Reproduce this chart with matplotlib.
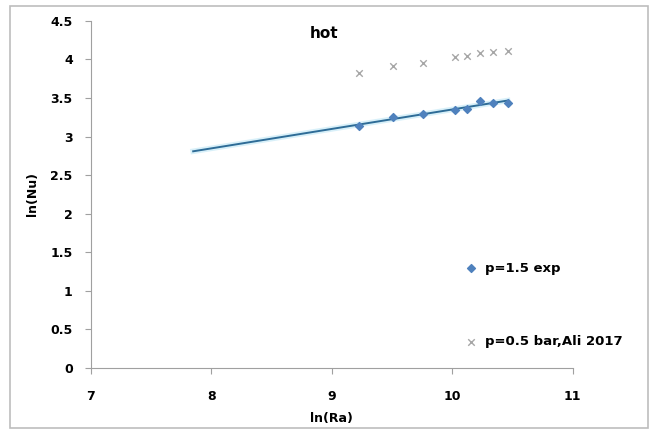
import numpy as np
import matplotlib
matplotlib.use("Agg")
import matplotlib.pyplot as plt
from matplotlib.patches import Rectangle

plt.rcParams["font.family"] = ["DejaVu Sans"]
plt.rcParams["font.weight"] = "bold"

# ln(Ra) of the measured points
ln_ra = [9.23, 9.51, 9.76, 10.02, 10.12, 10.23, 10.34, 10.46]
# p=1.5 exp
ln_nu_exp = [3.14, 3.25, 3.29, 3.35, 3.36, 3.46, 3.44, 3.44]
# p=0.5 bar, Ali 2017
ln_nu_ali = [3.83, 3.91, 3.96, 4.03, 4.05, 4.09, 4.10, 4.11]
trend_start = 7.85

x_ticks = [7, 8, 9, 10, 11]
y_ticks = [0, 0.5, 1, 1.5, 2, 2.5, 3, 3.5, 4, 4.5]

fig = plt.figure(figsize=(6.53, 4.36), dpi=100)
ax = fig.add_axes([0.139, 0.156, 0.738, 0.796])

# outer chart border
fig.patches.append(Rectangle((0.016, 0.018), 0.976, 0.968, transform=fig.transFigure,
                             fill=False, edgecolor="#bdbdbd", linewidth=1.2))

# linear trendline (fitted on the exp points, extended backwards)
k, b = np.polyfit(ln_ra, ln_nu_exp, 1)
xt = np.array([trend_start, max(ln_ra)])
ax.plot(xt, k * xt + b, color="#bfe6f5", lw=4, alpha=0.6, zorder=2)
ax.plot(xt, k * xt + b, color="#2e6c97", lw=1.4, zorder=3)

ax.scatter(ln_ra, ln_nu_exp, marker="D", s=16, color="#4f81bd", zorder=4, label="p=1.5 exp")
ax.scatter(ln_ra, ln_nu_ali, marker="x", s=22, color="#a6a6a6", linewidths=1.0, zorder=4,
           label="p=0.5 bar,Ali 2017")

ax.set_xlim(7, 11)
ax.set_ylim(0, 4.5)
ax.set_xticks(x_ticks)
ax.set_yticks(y_ticks)
ax.set_yticklabels(["0", "0.5", "1", "1.5", "2", "2.5", "3", "3.5", "4", "4.5"])

for s in ["top", "right"]:
    ax.spines[s].set_visible(False)
for s in ["left", "bottom"]:
    ax.spines[s].set_color("#a0a0a0")
ax.tick_params(direction="out", length=4, color="#a0a0a0", labelsize=9, pad=6)
ax.tick_params(axis="x", pad=12)
ax.tick_params(axis="y", pad=9)

ax.set_xlabel("ln(Ra)", fontsize=9, fontweight="bold", labelpad=6)
ax.set_ylabel("ln(Nu)", fontsize=9, fontweight="bold", labelpad=8)
ax.text(0.485, 0.965, "hot", transform=ax.transAxes, ha="center", va="center",
        fontsize=11, fontweight="bold")

ax.legend(loc="upper left", bbox_to_anchor=(0.765, 0.322), frameon=False,
          prop={"weight": "bold", "size": 9.5}, labelspacing=4.6,
          handletextpad=0.5, handlelength=1.0, borderaxespad=0)

fig.savefig("out.png", dpi=100)
